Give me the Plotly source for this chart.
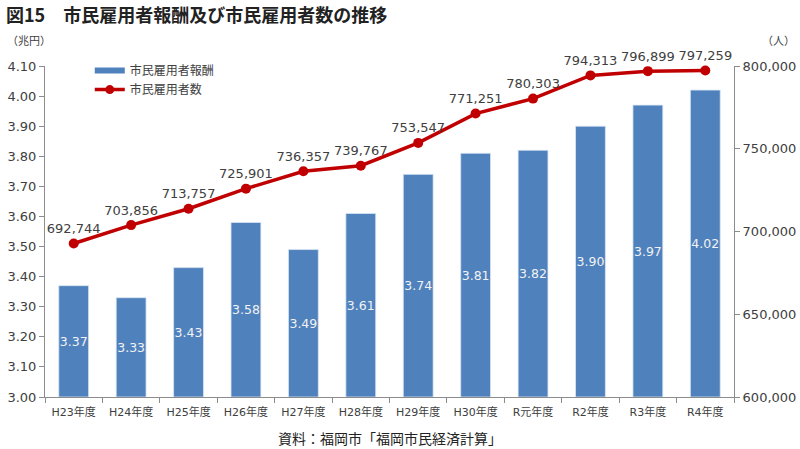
import plotly.graph_objects as go

categories = ["H23年度", "H24年度", "H25年度", "H26年度", "H27年度", "H28年度",
              "H29年度", "H30年度", "R元年度", "R2年度", "R3年度", "R4年度"]
compensation = [3.37, 3.33, 3.43, 3.58, 3.49, 3.61, 3.74, 3.81, 3.82, 3.90, 3.97, 4.02]
employees = [692744, 703856, 713757, 725901, 736357, 739767,
             753547, 771251, 780303, 794313, 796899, 797259]

left_ticks = [round(3.0 + 0.1 * i, 2) for i in range(12)]
right_ticks = [600000, 650000, 700000, 750000, 800000]
left_min = 3.0

FONT = "Noto Sans CJK JP"
NUM = "DejaVu Sans, Noto Sans CJK JP"
TXT = "#404040"
BAR = "#4F81BD"
LINE = "#C00000"
AX = "#8C8C8C"

fig = go.Figure()

fig.add_trace(go.Bar(
    x=categories, y=[round(v - left_min, 4) for v in compensation], base=left_min,
    name="市民雇用者報酬",
    marker=dict(color=BAR, line=dict(color="#DCE6F2", width=0.8)),
    width=0.52,
    text=[f"{v:.2f}" for v in compensation],
    textposition="inside", insidetextanchor="middle", textangle=0,
    constraintext="none",
    textfont=dict(color="#F2F2F2", size=12.5, family=NUM),
    showlegend=False, yaxis="y",
))

fig.add_trace(go.Scatter(
    x=categories, y=employees, name="市民雇用者数", yaxis="y2",
    mode="lines+markers+text",
    line=dict(color=LINE, width=3.5),
    marker=dict(color=LINE, size=10),
    text=[f"{v:,}" for v in employees],
    textposition="top center",
    textfont=dict(color=TXT, size=13, family=NUM),
    showlegend=False, cliponaxis=False,
))

# legend-only entries
fig.add_trace(go.Scatter(
    x=[None], y=[None], name="市民雇用者報酬", mode="lines",
    line=dict(color=BAR, width=6), showlegend=True,
))
fig.add_trace(go.Scatter(
    x=[None], y=[None], name="市民雇用者数", mode="lines+markers",
    line=dict(color=LINE, width=3.5), marker=dict(color=LINE, size=9),
    showlegend=True, yaxis="y2",
))

fig.update_layout(
    width=800, height=449,
    margin=dict(l=45, r=66, t=66, b=52),
    paper_bgcolor="white", plot_bgcolor="white",
    font=dict(family=FONT, color=TXT, size=12),
    xaxis=dict(
        range=[-0.5, len(categories) - 0.5],
        showline=True, linecolor=AX, linewidth=1,
        ticks="outside", tickson="boundaries", ticklen=5, tickcolor=AX,
        tickfont=dict(size=11, color=TXT, family=NUM),
        tickangle=0, automargin=False, ticklabelstandoff=5,
        showgrid=False,
    ),
    yaxis=dict(
        range=[3.0, 4.1], tickvals=left_ticks, tickformat=".2f",
        showline=True, linecolor=AX, linewidth=1,
        ticks="outside", ticklen=5, tickcolor=AX,
        tickfont=dict(size=13, color=TXT, family=NUM),
        showgrid=False, zeroline=False, automargin=False,
    ),
    yaxis2=dict(
        range=[600000, 800000], tickvals=right_ticks, tickformat=",",
        overlaying="y", side="right",
        showline=True, linecolor=AX, linewidth=1,
        ticks="outside", ticklen=5, tickcolor=AX,
        tickfont=dict(size=13, color=TXT, family=NUM),
        showgrid=False, zeroline=False, automargin=False,
    ),
    legend=dict(
        x=0.065, y=1.03, xanchor="left", yanchor="top",
        bgcolor="rgba(0,0,0,0)", font=dict(size=12, color=TXT, family=FONT),
        itemwidth=30, tracegroupgap=4,
    ),
)

# position annotations in pixel terms relative to the plot area
pw = 800 - 45 - 66
ph = 449 - 66 - 52
def px(xp):
    return (xp - 45) / pw
def py(yp):
    return (449 - 52 - yp) / ph

fig.layout.annotations = [
    dict(text="<b>図15　市民雇用者報酬及び市民雇用者数の推移</b>", x=px(4), y=py(14),
         xref="paper", yref="paper",
         xanchor="left", yanchor="middle", showarrow=False,
         font=dict(size=18, color="#222222", family=FONT)),
    dict(text="（兆円）", x=px(5), y=py(40), xref="paper", yref="paper",
         xanchor="left", yanchor="middle", showarrow=False,
         font=dict(size=11, color=TXT, family=FONT)),
    dict(text="（人）", x=px(797), y=py(40), xref="paper", yref="paper",
         xanchor="right", yanchor="middle", showarrow=False,
         font=dict(size=11, color=TXT, family=FONT)),
    dict(text="資料：福岡市「福岡市民経済計算」", x=px(390), y=py(438),
         xref="paper", yref="paper",
         xanchor="center", yanchor="middle", showarrow=False,
         font=dict(size=14, color="#222222", family=FONT)),
]

fig.write_html("out.html")
